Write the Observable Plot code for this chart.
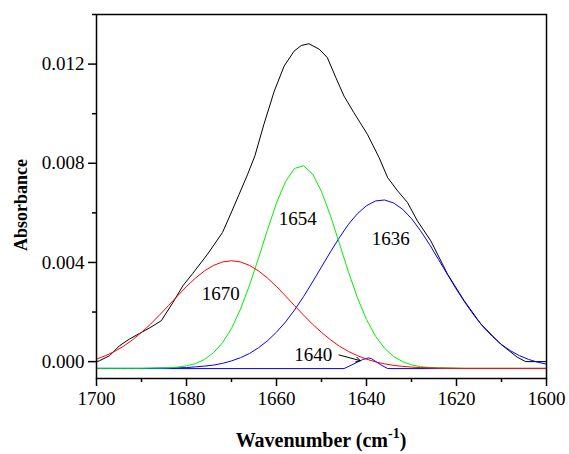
<!DOCTYPE html>
<html><head><meta charset="utf-8">
<script src="https://cdn.jsdelivr.net/npm/d3@7"></script>
<script src="https://cdn.jsdelivr.net/npm/@observablehq/plot@0.6"></script>
<style>
html,body{margin:0;padding:0;background:#fff;}
</style></head><body><div id="chart"></div>
<script>
// Wavenumber grid for the fitted components (cm^-1)
const wn = [1700,1698,1696,1694,1692,1690,1688,1686,1684,1682,
            1680,1678,1676,1674,1672,1670,1668,1666,1664,1662,
            1660,1658,1656,1654,1652,1650,1648,1646,1644,1642,
            1640,1638,1636,1634,1632,1630,1628,1626,1624,1622,
            1620,1618,1616,1614,1612,1610,1608,1606,1604,1602,
            1600];

// Component 1670 (red)
const band1670 = [0.00010,0.00024,0.00041,0.00062,0.00088,0.00118,0.00151,0.00188,0.00226,0.00265,
                  0.00303,0.00337,0.00366,0.00388,0.00402,0.00407,0.00402,0.00388,0.00366,0.00337,
                  0.00303,0.00265,0.00226,0.00188,0.00151,0.00118,0.00088,0.00062,0.00041,0.00024,
                  0.00010,-0.00001,-0.00009,-0.00015,-0.00019,-0.00022,-0.00024,-0.00025,-0.00026,-0.00026,
                  -0.00027,-0.00027,-0.00027,-0.00027,-0.00027,-0.00027,-0.00027,-0.00027,-0.00027,-0.00027,
                  -0.00027];

// Component 1654 (green)
const band1654 = [-0.00027,-0.00027,-0.00027,-0.00027,-0.00027,-0.00027,-0.00026,-0.00026,-0.00025,-0.00022,
                  -0.00017,-0.00008,0.00009,0.00036,0.00076,0.00134,0.00212,0.00308,0.00417,0.00532,
                  0.00640,0.00726,0.00779,0.00790,0.00757,0.00686,0.00588,0.00475,0.00361,0.00257,
                  0.00170,0.00103,0.00054,0.00021,0.00000,-0.00013,-0.00020,-0.00024,-0.00025,-0.00026,
                  -0.00026,-0.00027,-0.00027,-0.00027,-0.00027,-0.00027,-0.00027,-0.00027,-0.00027,-0.00027,
                  -0.00027];

// Component 1636 (blue)
const band1636 = [-0.00027,-0.00027,-0.00027,-0.00027,-0.00027,-0.00027,-0.00027,-0.00026,-0.00026,-0.00025,
                  -0.00024,-0.00021,-0.00018,-0.00014,-0.00007,0.00003,0.00016,0.00033,0.00056,0.00084,
                  0.00119,0.00160,0.00208,0.00262,0.00321,0.00382,0.00443,0.00501,0.00554,0.00597,
                  0.00629,0.00648,0.00652,0.00640,0.00615,0.00577,0.00528,0.00473,0.00412,0.00351,
                  0.00291,0.00235,0.00184,0.00139,0.00101,0.00069,0.00044,0.00024,0.00009,-0.00002,
                  -0.00010];

// Small component 1640 (blue)
const wn1640 = [1700,1645.0,1642.8,1640.9,1639.6,1638.9,1636.8,1635.3,1600];
const band1640 = [-0.00028,-0.00028,-0.00009,0.00008,0.00015,0.00012,-0.00013,-0.00028,-0.00028];

// Measured amide I spectrum (black)
const wnMeasured = [1700.0,1699.3,1697.1,1694.9,1692.7,1690.4,1688.2,1685.6,1683.0,1680.8,
                    1678.6,1675.3,1672.0,1670.2,1668.3,1666.4,1664.8,1662.8,1660.5,1658.3,
                    1656.1,1654.5,1652.8,1650.5,1648.7,1646.8,1645.0,1642.8,1639.8,1637.2,
                    1635.3,1633.1,1630.9,1628.7,1625.7,1622.0,1618.3,1614.6,1610.2,1606.5,
                    1604.6,1600.0];
const absMeasured = [0.00000,0.00004,0.00024,0.00064,0.00091,0.00114,0.00136,0.00165,0.00239,0.00306,
                     0.00356,0.00434,0.00521,0.00595,0.00675,0.00756,0.00830,0.00957,0.01091,0.01192,
                     0.01252,0.01275,0.01282,0.01260,0.01226,0.01145,0.01071,0.01004,0.00917,0.00823,
                     0.00742,0.00689,0.00642,0.00568,0.00487,0.00353,0.00246,0.00152,0.00071,0.00018,
                     0.00000,0.00000];

// Axis ticks
const xMajor = [1700,1680,1660,1640,1620,1600];
const xMinor = [1690,1670,1650,1630,1610];
const yMajor = [0.000,0.004,0.008,0.012];
const yMinor = [0.002,0.006,0.010,0.014];

// Band labels (data coordinates)
const labelText = ["1670","1654","1636"];
const labelWn   = [1672.4,1655.3,1634.6];
const labelAbs  = [0.00273,0.00575,0.00494];

// 1640 annotation
const noteText = "1640";
const noteWn = 1647.6, noteAbs = 0.00027;
const arrowFrom = [1646.1, 0.00027];
const arrowTo   = [1641.4, 0.00004];

const series = (xs, ys) => xs.map((w, i) => ({w, v: ys[i]}));
const labels = labelText.map((t, i) => ({t, w: labelWn[i], v: labelAbs[i]}));

const serif = "'Liberation Serif','Times New Roman',Times,serif";

const chart = Plot.plot({
  width: 569, height: 454,
  marginLeft: 96, marginRight: 23, marginTop: 14, marginBottom: 76,
  style: {fontFamily: serif, fontSize: "19px", background: "#fff", color: "#000", overflow: "visible"},
  x: {domain: [1700, 1600]},
  y: {domain: [-0.00068, 0.014]},
  marks: [
    Plot.axisX(xMajor, {tickSize: 8, tickPadding: 5, tickFormat: d => String(d), label: null, strokeWidth: 1.5, fontSize: 19}),
    Plot.axisX(xMinor, {tickSize: 4, tickFormat: () => "", label: null, strokeWidth: 1.5}),
    Plot.axisY(yMajor, {tickSize: 8, tickPadding: 4, tickFormat: d => d.toFixed(3), label: null, strokeWidth: 1.5, fontSize: 19}),
    Plot.axisY(yMinor, {tickSize: 4, tickFormat: () => "", label: null, strokeWidth: 1.5}),
    Plot.line(series(wnMeasured, absMeasured), {x: "w", y: "v", stroke: "#000", strokeWidth: 1}),
    Plot.line(series(wn1640, band1640), {x: "w", y: "v", stroke: "#0000ff", strokeWidth: 1}),
    Plot.line(series(wn, band1636), {x: "w", y: "v", stroke: "#0000ff", strokeWidth: 1}),
    Plot.line(series(wn, band1654), {x: "w", y: "v", stroke: "#00ee00", strokeWidth: 1}),
    Plot.line(series(wn, band1670), {x: "w", y: "v", stroke: "#ff0000", strokeWidth: 1}),
    Plot.text(labels, {x: "w", y: "v", text: "t", fontSize: 19, fill: "#000"}),
    Plot.text([{t: noteText, w: noteWn, v: noteAbs}], {x: "w", y: "v", text: "t", textAnchor: "end", fontSize: 19, fill: "#000"}),
    Plot.arrow([{x1: arrowFrom[0], y1: arrowFrom[1], x2: arrowTo[0], y2: arrowTo[1]}],
      {x1: "x1", y1: "y1", x2: "x2", y2: "y2", stroke: "#000", strokeWidth: 1, headLength: 7}),
    Plot.frame({stroke: "#000", strokeWidth: 1.5})
  ]
});

const svg = d3.select(chart);
// X axis title with superscript
const xt = svg.append("text")
  .attr("x", 321).attr("y", 447)
  .attr("text-anchor", "middle")
  .attr("font-family", serif)
  .attr("font-weight", "bold")
  .attr("font-size", 20)
  .attr("fill", "#000");
xt.append("tspan").text("Wavenumber (cm");
xt.append("tspan").attr("font-size", 14).attr("dy", -9).text("-1");
xt.append("tspan").attr("dy", 9).text(")");
// Y axis title
svg.append("text")
  .attr("transform", "translate(27,205) rotate(-90)")
  .attr("text-anchor", "middle")
  .attr("font-family", serif)
  .attr("font-weight", "bold")
  .attr("font-size", 18)
  .attr("fill", "#000")
  .text("Absorbance");

document.getElementById("chart").appendChild(chart);
</script>
</body></html>
